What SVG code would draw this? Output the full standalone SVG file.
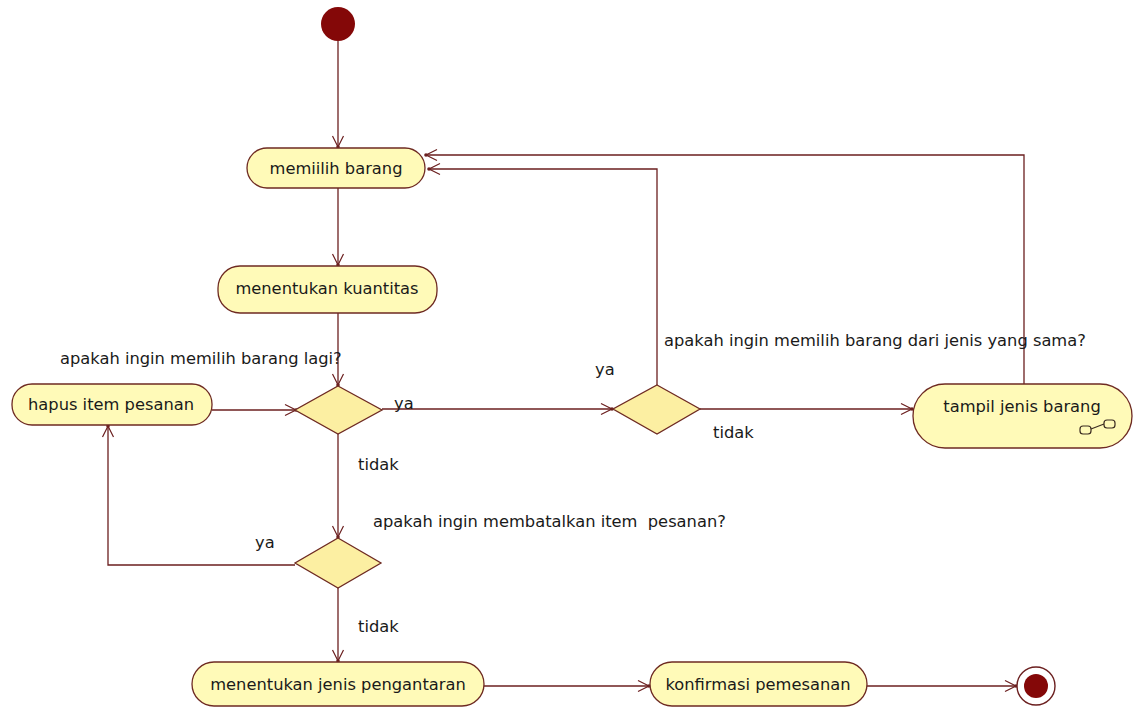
<svg xmlns="http://www.w3.org/2000/svg" width="1138" height="708" viewBox="0 0 1138 708">
  <style>
    .bg { fill: #ffffff; }
    .action { fill: #fffab8; stroke: #6e2a22; stroke-width: 1.3; }
    .decision { fill: #fcefa2; stroke: #6e2a22; stroke-width: 1.3; }
    .edge { fill: none; stroke: #6b1f1f; stroke-width: 1.3; }
    .label { font-family: "DejaVu Sans", "Liberation Sans", sans-serif; font-size: 16.3px; fill: #1a1a1a; white-space: pre; }
    .center { text-anchor: middle; }
    .initial { fill: #840808; }
    .final-ring { fill: #ffffff; stroke: #6b1f1f; stroke-width: 1.4; }
    .final-dot { fill: #840808; }
    .rake { fill: #fffab8; stroke: #3a2a20; stroke-width: 1.2; }
  </style>
  <defs>
    <marker id="arrow" markerWidth="14" markerHeight="14" refX="12" refY="7" orient="auto" markerUnits="userSpaceOnUse">
      <path d="M1,1.5 L12,7 L1,12.5" fill="none" stroke="#6b1f1f" stroke-width="1.2"/>
      <circle cx="12" cy="7" r="1.8" fill="#6b1f1f"/>
    </marker>
  </defs>

  <rect class="bg" x="0" y="0" width="1138" height="708"/>

  <!-- control flows -->
  <g id="connectors">
    <path class="edge" d="M338,41 L338,147" marker-end="url(#arrow)"/>
    <path class="edge" d="M338,188 L338,265" marker-end="url(#arrow)"/>
    <path class="edge" d="M338,313 L338,385" marker-end="url(#arrow)"/>
    <path class="edge" d="M338,434 L338,537" marker-end="url(#arrow)"/>
    <path class="edge" d="M338,588 L338,661" marker-end="url(#arrow)"/>
    <path class="edge" d="M295,565 L108,565 L108,426" marker-end="url(#arrow)"/>
    <path class="edge" d="M212,410 L296,410" marker-end="url(#arrow)"/>
    <path class="edge" d="M382,409 L612,409" marker-end="url(#arrow)"/>
    <path class="edge" d="M657,385 L657,169 L429,169" marker-end="url(#arrow)"/>
    <path class="edge" d="M700,409 L912,409" marker-end="url(#arrow)"/>
    <path class="edge" d="M1024,384 L1024,155 L426,155" marker-end="url(#arrow)"/>
    <path class="edge" d="M484,686 L649,686" marker-end="url(#arrow)"/>
    <path class="edge" d="M867,686 L1016,686" marker-end="url(#arrow)"/>
  </g>

  <!-- guard labels -->
  <g id="guards">
    <text class="label" x="60" y="364">apakah ingin memilih barang lagi?</text>
    <text class="label" x="394" y="409">ya</text>
    <text class="label" x="358" y="470">tidak</text>
    <text class="label" x="373" y="527" xml:space="preserve">apakah ingin membatalkan item  pesanan?</text>
    <text class="label" x="255" y="548">ya</text>
    <text class="label" x="358" y="632">tidak</text>
    <text class="label" x="595" y="375">ya</text>
    <text class="label" x="664" y="346">apakah ingin memilih barang dari jenis yang sama?</text>
    <text class="label" x="713" y="438">tidak</text>
  </g>

  <g id="initial">
    <circle class="initial" cx="338" cy="24" r="17"/>
  </g>

  <g id="memilih-barang">
    <rect class="action" x="247" y="148" width="178" height="40" rx="20" ry="20"/>
    <text class="label center" x="336" y="174">memiilih barang</text>
  </g>

  <g id="menentukan-kuantitas">
    <rect class="action" x="218" y="266" width="219" height="47" rx="22" ry="22"/>
    <text class="label center" x="327" y="294">menentukan kuantitas</text>
  </g>

  <g id="hapus-item">
    <rect class="action" x="12" y="384" width="200" height="41" rx="20" ry="20"/>
    <text class="label center" x="111" y="410">hapus item pesanan</text>
  </g>

  <g id="decision-lagi">
    <polygon class="decision" points="338,386 382,410 338,434 295,410"/>
  </g>

  <g id="decision-batal">
    <polygon class="decision" points="338,538 381,563 338,588 295,563"/>
  </g>

  <g id="decision-sama">
    <polygon class="decision" points="657,385 700,409 657,434 613,409"/>
  </g>

  <g id="tampil-jenis-barang">
    <rect class="action" x="913" y="384" width="219" height="64" rx="32" ry="32"/>
    <text class="label center" x="1022" y="412">tampil jenis barang</text>
    <!-- call-behavior (rake) symbol -->
    <rect class="rake" x="1080" y="426" width="11" height="8" rx="3" ry="3"/>
    <rect class="rake" x="1104" y="420" width="11" height="8" rx="3" ry="3"/>
    <path d="M1091,429 L1104,424" fill="none" stroke="#3a2a20" stroke-width="1.2"/>
  </g>

  <g id="menentukan-pengantaran">
    <rect class="action" x="192" y="662" width="292" height="44" rx="22" ry="22"/>
    <text class="label center" x="338" y="690">menentukan jenis pengantaran</text>
  </g>

  <g id="konfirmasi-pemesanan">
    <rect class="action" x="650" y="662" width="217" height="44" rx="22" ry="22"/>
    <text class="label center" x="758" y="690">konfirmasi pemesanan</text>
  </g>

  <g id="final">
    <circle class="final-ring" cx="1036" cy="686" r="19"/>
    <circle class="final-dot" cx="1036" cy="686" r="12"/>
  </g>
</svg>
